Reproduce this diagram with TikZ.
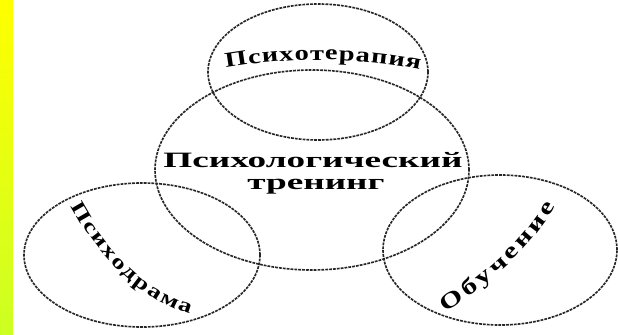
\documentclass[tikz,border=0pt]{standalone}
\usepackage{fontspec}
\setmainfont{Liberation Serif}
\newfontfamily\widefont[FakeStretch=1.7]{Liberation Serif}
\newfontfamily\arcfont[FakeStretch=1.35]{Liberation Serif}
\usetikzlibrary{decorations.text}

\tikzset{
  ring/.style={draw=black!85, line width=1.4pt, dash pattern=on 2.4pt off 0.9pt},
  ringlabel/.style={decorate, decoration={text along path, text align={fit to path}, text={#1}}},
}

\begin{document}
\begin{tikzpicture}[x=0.03cm,y=0.03cm]
\useasboundingbox (0,0) rectangle (618,334);
\fill[white] (0,0) rectangle (618,334);
\shade[top color={rgb,255:red,255;green,255;blue,0}, bottom color={rgb,255:red,204;green,255;blue,34}] (0,0) rectangle (13,334);
\coordinate (topc) at (318,262);
\coordinate (mainc) at (312,164);
\coordinate (leftc) at (142,79);
\coordinate (rightc) at (500,84);
\draw[ring] (topc) ellipse (110 and 68);
\draw[ring] (mainc) ellipse (157 and 100);
\draw[ring] (leftc) ellipse (118 and 72);
\draw[ring] (rightc) ellipse (117 and 75);
\node (title) [font=\widefont\bfseries\fontsize{18.7}{18.7}\selectfont, anchor=base] at (313,166) {Психологический};
\node (title2) [font=\widefont\bfseries\fontsize{18.7}{18.7}\selectfont, anchor=base] at (316,144) {тренинг};
\path[ringlabel={|\arcfont\bfseries\fontsize{18}{18}\selectfont|Психотерапия}] (226,266) .. controls (290,277) and (360,277) .. (420,264);
\path[ringlabel={|\arcfont\bfseries\fontsize{17}{17}\selectfont|Психодрама}] (71,128) .. controls (92,88) and (135,35) .. (190,20);
\path[ringlabel={|\arcfont\bfseries\fontsize{19}{19}\selectfont|Обучение}] (445,22) .. controls (490,50) and (530,85) .. (555,128);
\end{tikzpicture}
\end{document}
